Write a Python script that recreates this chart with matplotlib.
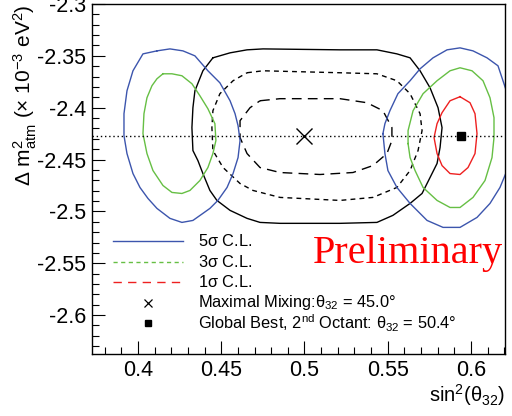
import numpy as np
import matplotlib
matplotlib.use("Agg")
import matplotlib.pyplot as plt

plt.rcParams['font.family'] = ['Liberation Sans', 'DejaVu Sans']
plt.rcParams['mathtext.fontset'] = 'custom'
plt.rcParams['mathtext.rm'] = 'Liberation Sans'
plt.rcParams['mathtext.it'] = 'Liberation Sans'
plt.rcParams['mathtext.bf'] = 'Liberation Sans:bold'
plt.rcParams['axes.unicode_minus'] = False

# best fit / maximal mixing points
best_s2 = 0.5937
best_dm2 = -2.427
maxmix_s2 = 0.5

# 5 sigma, first octant island
c5a_x = [0.4114, 0.4192, 0.4270, 0.4342, 0.4420, 0.4492, 0.4553, 0.4583, 0.4601, 0.4613,
         0.4601, 0.4571, 0.4535, 0.4480, 0.4432, 0.4390, 0.4330, 0.4264, 0.4192, 0.4114,
         0.4060, 0.4012, 0.3970, 0.3934, 0.3916, 0.3916, 0.3934, 0.3970, 0.4030]
c5a_y = [-2.3452, -2.3433, -2.3452, -2.3500, -2.3644, -2.3760, -2.3933, -2.4058, -2.4173, -2.4317,
         -2.4481, -2.4635, -2.4769, -2.4894, -2.4971, -2.5019, -2.5087, -2.5106, -2.5067, -2.4971,
         -2.4875, -2.4769, -2.4635, -2.4442, -2.4269, -2.4058, -2.3837, -2.3644, -2.3481]

# 5 sigma, second octant island
c5b_x = [0.5471, 0.5483, 0.5513, 0.5561, 0.5634, 0.5694, 0.5772, 0.5856, 0.5934, 0.6012,
         0.6096, 0.6162, 0.6192, 0.6216, 0.6246, 0.6246, 0.6216, 0.6174, 0.6114, 0.6036,
         0.5934, 0.5832, 0.5736, 0.5634, 0.5555, 0.5501, 0.5483]
c5b_y = [-2.4250, -2.4154, -2.4029, -2.3865, -2.3740, -2.3625, -2.3519, -2.3442, -2.3423, -2.3452,
         -2.3519, -2.3596, -2.3740, -2.3856, -2.4029, -2.4413, -2.4606, -2.4769, -2.4923, -2.5058,
         -2.5154, -2.5154, -2.5087, -2.4923, -2.4769, -2.4606, -2.4442]

# 3 sigma
c3a_x = [0.4150, 0.4204, 0.4264, 0.4324, 0.4372, 0.4420, 0.4462, 0.4468, 0.4450, 0.4420, 0.4372,
         0.4312, 0.4264, 0.4204, 0.4150, 0.4090, 0.4054, 0.4030, 0.4036, 0.4054, 0.4084, 0.4114]
c3a_y = [-2.3673, -2.3673, -2.3692, -2.3769, -2.3885, -2.4010, -2.4154, -2.4317, -2.4442, -2.4577, -2.4702,
         -2.4798, -2.4827, -2.4817, -2.4750, -2.4606, -2.4442, -2.4250, -2.4058, -2.3904, -2.3788, -2.3721]
c3b_x = [0.5622, 0.5622, 0.5652, 0.5712, 0.5796, 0.5874, 0.5934, 0.6006, 0.6072, 0.6114, 0.6138,
         0.6138, 0.6126, 0.6084, 0.6012, 0.5934, 0.5874, 0.5796, 0.5712, 0.5664, 0.5634]
c3b_y = [-2.4346, -2.4221, -2.4029, -2.3865, -2.3740, -2.3644, -2.3615, -2.3644, -2.3740, -2.3904, -2.4096,
         -2.4288, -2.4481, -2.4702, -2.4865, -2.4962, -2.4962, -2.4894, -2.4769, -2.4606, -2.4481]

# 1 sigma
c1_x = [0.5934, 0.5994, 0.6024, 0.6036, 0.6024, 0.5982, 0.5934, 0.5874, 0.5826, 0.5796,
        0.5778, 0.5796, 0.5826, 0.5874]
c1_y = [-2.3894, -2.3952, -2.4058, -2.4250, -2.4442, -2.4577, -2.4644, -2.4635, -2.4558, -2.4442,
        -2.4288, -2.4154, -2.4048, -2.3933]

# comparison contours (black)
k_solid_x = [0.4450, 0.4553, 0.4655, 0.4751, 0.5213, 0.5435, 0.5555, 0.5634, 0.5694, 0.5754, 0.5802,
             0.5826, 0.5814, 0.5796, 0.5754, 0.5706, 0.5634, 0.5531, 0.5435, 0.5213, 0.4853, 0.4733,
             0.4655, 0.4553, 0.4474, 0.4432, 0.4390, 0.4360, 0.4330, 0.4324, 0.4330, 0.4342, 0.4390]
k_solid_y = [-2.3519, -2.3471, -2.3442, -2.3433, -2.3442, -2.3442, -2.3481, -2.3519, -2.3644, -2.3808, -2.4000,
             -2.4192, -2.4385, -2.4538, -2.4673, -2.4827, -2.4923, -2.5038, -2.5106, -2.5115, -2.5115, -2.5106,
             -2.5067, -2.4990, -2.4894, -2.4798, -2.4635, -2.4510, -2.4413, -2.4192, -2.4000, -2.3837, -2.3644]
k_outer_x = [0.4655, 0.4751, 0.5213, 0.5435, 0.5555, 0.5634, 0.5694, 0.5706, 0.5682, 0.5634, 0.5555,
             0.5411, 0.5213, 0.4853, 0.4691, 0.4613, 0.4511, 0.4450, 0.4444, 0.4450, 0.4492, 0.4571]
k_outer_y = [-2.3663, -2.3644, -2.3663, -2.3673, -2.3740, -2.3865, -2.4058, -2.4221, -2.4413, -2.4606, -2.4769,
             -2.4865, -2.4894, -2.4865, -2.4798, -2.4731, -2.4577, -2.4413, -2.4192, -2.4029, -2.3865, -2.3740]
k_inner_x = [0.4733, 0.4853, 0.5213, 0.5375, 0.5471, 0.5525, 0.5525, 0.5495, 0.5411, 0.5291,
             0.5093, 0.4853, 0.4733, 0.4655, 0.4613, 0.4613, 0.4673]
k_inner_y = [-2.3933, -2.3913, -2.3913, -2.3952, -2.4029, -2.4192, -2.4317, -2.4442, -2.4558, -2.4625,
             -2.4644, -2.4625, -2.4577, -2.4442, -2.4288, -2.4125, -2.4000]

BLUE = '#3c55ad'
GREEN = '#66bf44'
RED = '#ee2020'


def closed(xs, ys):
    return np.append(xs, xs[0]), np.append(ys, ys[0])


fig = plt.figure(figsize=(5.12, 4.16), dpi=100)
ax = fig.add_axes([0.1797, 0.149, 0.8066, 0.8414])

lw = 1.0
ax.plot(*closed(k_solid_x, k_solid_y), color='black', lw=lw)
ax.plot(*closed(k_outer_x, k_outer_y), color='black', lw=lw, dashes=(3.5, 3))
ax.plot(*closed(k_inner_x, k_inner_y), color='black', lw=lw, dashes=(7, 4.5))
ax.plot(*closed(c5a_x, c5a_y), color=BLUE, lw=lw)
ax.plot(*closed(c5b_x, c5b_y), color=BLUE, lw=lw)
ax.plot(*closed(c3a_x, c3a_y), color=GREEN, lw=lw)
ax.plot(*closed(c3b_x, c3b_y), color=GREEN, lw=lw)
ax.plot(*closed(c1_x, c1_y), color=RED, lw=lw)

ax.axhline(best_dm2, color='black', lw=1.0, ls=(0, (1, 2)))
ax.plot([maxmix_s2], [best_dm2], marker='x', color='black', ms=11, mew=1.0, ls='none')
ax.plot([best_s2], [best_dm2], marker='s', color='black', ms=5.5, ls='none')

ax.set_xlim(0.3724, 0.6204)
ax.set_ylim(-2.6375, -2.30)
ax.set_xticks([0.4, 0.45, 0.5, 0.55, 0.6])
ax.set_xticklabels(['0.4', '0.45', '0.5', '0.55', '0.6'])
ax.set_yticks([-2.6, -2.55, -2.5, -2.45, -2.4, -2.35, -2.3])
ax.set_yticklabels(['-2.6', '-2.55', '-2.5', '-2.45', '-2.4', '-2.35', '-2.3'])
ax.set_xticks(np.arange(0.38, 0.621, 0.01), minor=True)
ax.set_yticks(np.arange(-2.63, -2.299, 0.01), minor=True)
ax.tick_params(which='both', direction='in', top=False, right=False, width=0.8, labelsize=15.5)
ax.tick_params(which='major', length=9.5)
ax.tick_params(which='minor', length=5)
ax.tick_params(axis='x', pad=4)
ax.tick_params(axis='y', pad=4)
for sp in ax.spines.values():
    sp.set_linewidth(1.0)

# legend, drawn by hand without a frame
rows = [0.323, 0.263, 0.206, 0.146, 0.089]
x0, x1, xm, xt = 0.051, 0.220, 0.136, 0.257
ax.plot([x0, x1], [rows[0]] * 2, color=BLUE, lw=lw, transform=ax.transAxes)
ax.plot([x0, x1], [rows[1]] * 2, color=GREEN, lw=lw, dashes=(3, 2.5), transform=ax.transAxes)
ax.plot([x0, x1], [rows[2]] * 2, color=RED, lw=lw, dashes=(6, 4.5), transform=ax.transAxes)
ax.plot([xm], [rows[3]], marker='x', color='black', ms=6, mew=0.9, transform=ax.transAxes)
ax.plot([xm], [rows[4]], marker='s', color='black', ms=5, transform=ax.transAxes)
labels = [r'5$\sigma$ C.L.', r'3$\sigma$ C.L.', r'1$\sigma$ C.L.',
          r'Maximal Mixing:$\theta_{32}$ = 45.0°',
          r'Global Best, 2$^{nd}$ Octant: $\theta_{32}$ = 50.4°']
for y, lab in zip(rows, labels):
    ax.text(xt, y, lab, transform=ax.transAxes, ha='left', va='center', fontsize=11.8)

fig.text(503 / 512, 1 - 263 / 416, 'Preliminary', ha='right', va='baseline',
         color='red', family='Liberation Serif', fontsize=29)

fig.text(505 / 512, 1 - 408 / 416, r'sin$^{2}$($\theta_{32}$)', ha='right', va='bottom', fontsize=14.5)
fig.text(0.050, 1 - 186 / 416, r'$\Delta$ m$^{2}_{\rm atm}$ ($\times$ 10$^{-3}$ eV$^{2}$)',
         rotation=90, ha='center', va='bottom', fontsize=15)

fig.savefig('out.png', dpi=100)
